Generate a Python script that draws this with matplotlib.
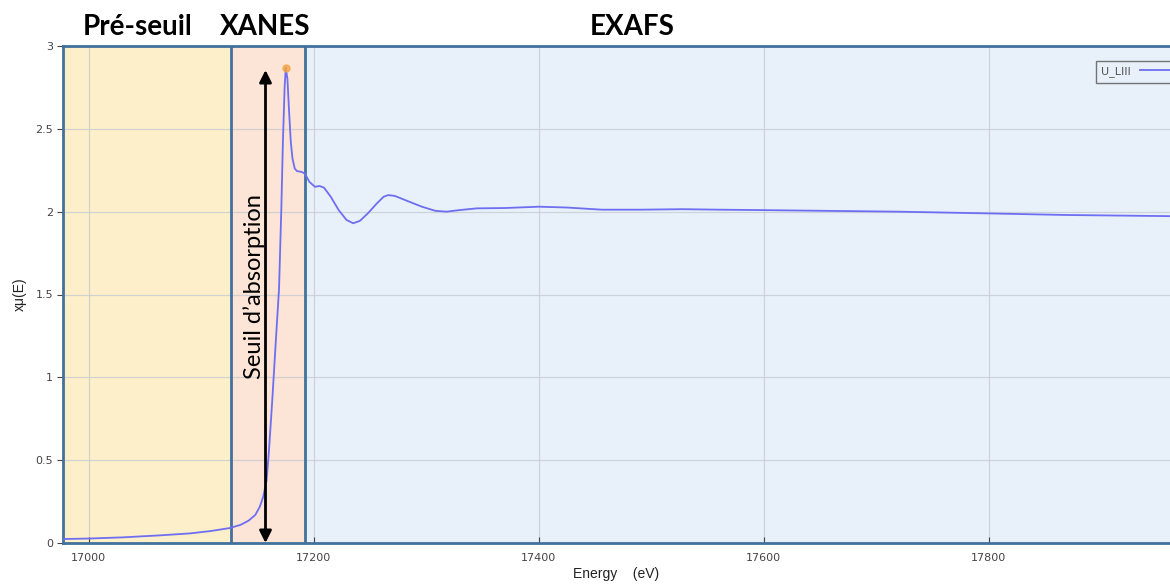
import matplotlib
matplotlib.use("Agg")
import matplotlib.pyplot as plt

# ---------------- DATA ----------------

energy = [16977, 17000, 17030, 17063, 17090, 17108, 17125, 17135, 17142, 17148,
          17152, 17155, 17158, 17160, 17163, 17166, 17169, 17171, 17172.5, 17174,
          17175, 17176.5, 17178, 17179.5, 17181, 17183, 17185, 17189, 17192, 17196,
          17201, 17205, 17209, 17215, 17222, 17229, 17235, 17241, 17248, 17256,
          17262, 17266, 17272, 17283, 17296, 17308, 17318, 17330, 17345, 17370,
          17400, 17425, 17456, 17490, 17528, 17560, 17592, 17655, 17719, 17796,
          17868, 17961]
mu = [0.024, 0.027, 0.034, 0.046, 0.058, 0.072, 0.09, 0.11, 0.135, 0.17,
      0.22, 0.28, 0.38, 0.55, 0.86, 1.2, 1.53, 2.0, 2.43, 2.75,
      2.87, 2.8, 2.6, 2.42, 2.32, 2.26, 2.245, 2.24, 2.23, 2.18,
      2.15, 2.155, 2.145, 2.09, 2.01, 1.95, 1.93, 1.945, 1.99, 2.05,
      2.09, 2.10, 2.095, 2.065, 2.03, 2.005, 2.0, 2.01, 2.02, 2.022,
      2.03, 2.025, 2.012, 2.012, 2.015, 2.012, 2.01, 2.005, 2.0, 1.99,
      1.98, 1.973]

peak_e, peak_mu = 17175, 2.87
edge_e = 17157

# region limits (eV)
x_min, x_max = 16977, 17961
pre_edge_end = 17126
xanes_end = 17192

region_names = ["Pré-seuil", "XANES", "EXAFS"]
region_label_x = [17043, 17157, 17483]

x_ticks = [17000, 17200, 17400, 17600, 17800]
y_ticks = [0, 0.5, 1, 1.5, 2, 2.5, 3]
y_tick_labels = ["0", "0.5", "1", "1.5", "2", "2.5", "3"]

# ---------------- PLOT ----------------

frame_col = "#41719c"

fig = plt.figure(figsize=(11.7, 5.85), dpi=100)
ax = fig.add_axes([63 / 1170, 1 - 543 / 585, 1 - 63 / 1170, (543 - 46) / 585])

ax.axvspan(x_min, pre_edge_end, color="#fdefc9", zorder=0)
ax.axvspan(pre_edge_end, xanes_end, color="#fce4d6", zorder=0)
ax.axvspan(xanes_end, x_max, color="#e8f0f9", zorder=0)
for xv in (pre_edge_end, xanes_end):
    ax.axvline(xv, color=frame_col, lw=2, zorder=3)

ax.grid(True, color="#c8ccd2", lw=0.9, alpha=0.8, zorder=1)
ax.set_axisbelow(True)

ax.plot(energy, mu, color="#6e6ef2", lw=1.3, label="U_LIII", zorder=4)
ax.plot([peak_e], [peak_mu], "o", color="#f5a540", ms=5, alpha=0.8, zorder=5)

# double arrow for the absorption edge
ax.annotate("", xy=(edge_e, 0.0), xytext=(edge_e, 2.855),
            arrowprops=dict(arrowstyle="<|-|>", color="black", lw=2,
                            mutation_scale=18, shrinkA=0, shrinkB=0),
            zorder=6)
ax.text(edge_e - 10.5, 1.55, "Seuil d\u2019absorption", rotation=90,
        ha="center", va="center", fontsize=17, family="Lato", color="black",
        zorder=6)

ax.set_xlim(x_min, x_max)
ax.set_ylim(0, 3)
ax.set_xticks(x_ticks)
ax.set_yticks(y_ticks)
ax.set_yticklabels(y_tick_labels)
ax.tick_params(axis="both", labelsize=8, colors="#444444", length=4, width=0.8)
ax.tick_params(axis="x", direction="in", pad=7)
ax.tick_params(axis="y", pad=3)

for side in ("left", "top", "bottom"):
    ax.spines[side].set_color(frame_col)
    ax.spines[side].set_linewidth(2)
ax.spines["right"].set_visible(False)

ax.set_xlabel("Energy    (eV)", fontsize=10, color="#222222", labelpad=3,
              family="Liberation Sans")
ax.set_ylabel("x\u03bc(E)", fontsize=10, color="#222222", labelpad=6,
              family="Liberation Sans")

for name, xv in zip(region_names, region_label_x):
    ax.annotate(name, xy=(xv, 3.0), xytext=(0, 4), textcoords="offset points",
                ha="center", va="bottom", fontsize=20, fontweight="bold",
                family="Lato", color="black", annotation_clip=False)

leg = ax.legend(loc="upper left", bbox_to_anchor=(1090 / 1170, 1 - 55 / 585),
                bbox_transform=fig.transFigure, fontsize=8, frameon=True,
                fancybox=False, handlelength=3.5, borderpad=0.5,
                markerfirst=False)
leg.get_frame().set_edgecolor("#555555")
leg.get_frame().set_facecolor("#e8f0f9")
leg.get_frame().set_linewidth(1)
for t in leg.get_texts():
    t.set_color("#555555")

fig.savefig("out.png", dpi=100)
